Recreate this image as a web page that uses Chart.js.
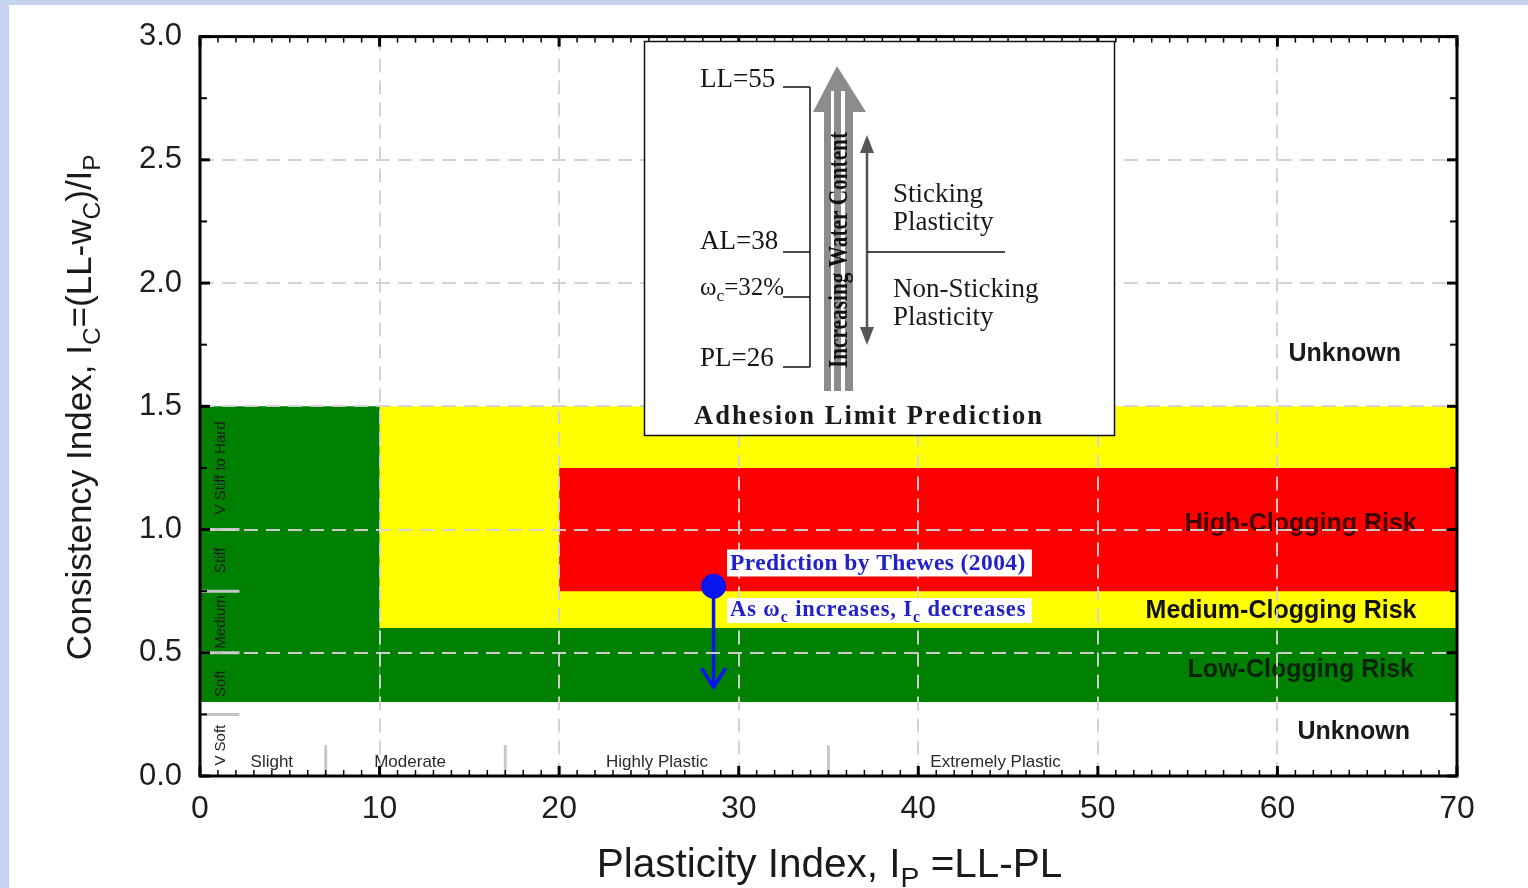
<!DOCTYPE html>
<html>
<head>
<meta charset="utf-8">
<title>Clogging risk chart</title>
<script src="https://cdn.jsdelivr.net/npm/chart.js@4.4.1/dist/chart.umd.min.js"></script>
<style>
  html, body { margin: 0; padding: 0; background: #fff; }
  #box { position: relative; width: 1528px; height: 888px; }
  canvas { display: block; }
</style>
</head>
<body>
<div id="box"><canvas id="myChart" width="1528" height="888"></canvas></div>
<script>
// ---- dados do gráfico ----
const xTickValues = [0, 10, 20, 30, 40, 50, 60, 70];
const yTickValues = [0, 0.5, 1.0, 1.5, 2.0, 2.5, 3.0];

// zonas de risco (Ip de/até, Ic de/até)
const zoneNames  = ['Medium', 'High', 'Low', 'Low'];
const zoneIpFrom = [10, 20, 0, 10];
const zoneIpTo   = [70, 70, 10, 70];
const zoneIcFrom = [0.6, 0.75, 0.3, 0.3];
const zoneIcTo   = [1.5, 1.25, 1.5, 0.6];

// rótulos das zonas (lado direito)
const riskLabels  = ['Unknown', 'High-Clogging Risk', 'Medium-Clogging Risk', 'Low-Clogging Risk', 'Unknown'];
const riskLabelIp = [63.75, 61.3, 60.2, 61.3, 64.25];
const riskLabelIc = [1.71, 1.02, 0.67, 0.43, 0.18];

// classes de consistência (borda esquerda)
const consistencyClasses = ['V Soft', 'Soft', 'Medium', 'Stiff', 'V Stiff to Hard'];
const consistencyBounds  = [0, 0.25, 0.5, 0.75, 1.0, 1.5];

// classes de plasticidade (borda inferior)
const plasticityClasses = ['Slight', 'Moderate', 'Highly Plastic', 'Extremely Plastic'];
const plasticityLabelIp = [4.0, 11.7, 25.45, 44.3];
const plasticityBounds  = [7, 17, 35];

// previsão de Thewes (2004)
const predictionIp = [28.6];
const predictionIc = [0.77];
const arrowIc = [0.77, 0.36];

// ---- estilos ----
const sans = '"Liberation Sans", Arial, sans-serif';
const serif = '"Liberation Serif", "Times New Roman", serif';
const zoneColor = { Low: '#008000', Medium: '#ffff00', High: '#ff0000' };
const blue = '#0a14ee';
const noteBlue = '#2222c8';

function drawRich(ctx, parts, x, y, size, family, weight, align) {
  const items = parts.map(p => {
    const font = weight + ' ' + (p.sub ? size * 0.7 : size) + 'px ' + family;
    ctx.font = font;
    return { t: p.t, sub: p.sub, font: font, w: ctx.measureText(p.t).width };
  });
  const total = items.reduce((s, it) => s + it.w, 0);
  let cx = align === 'center' ? x - total / 2 : x;
  ctx.textAlign = 'left';
  ctx.textBaseline = 'alphabetic';
  for (const it of items) {
    ctx.font = it.font;
    ctx.fillText(it.t, cx, it.sub ? y + size * 0.25 : y);
    cx += it.w;
  }
}

function seg(ctx, x1, y1, x2, y2) {
  ctx.beginPath();
  ctx.moveTo(x1, y1);
  ctx.lineTo(x2, y2);
  ctx.stroke();
}

// rótulos que ficam por baixo da grade
function drawUnderGrid(chart) {
  const { ctx, scales: { x, y } } = chart;
  ctx.save();

  // divisórias de consistência
  ctx.strokeStyle = '#c4c4c4';
  ctx.lineWidth = 3;
  for (let i = 1; i < consistencyBounds.length - 1; i++) {
    const py = y.getPixelForValue(consistencyBounds[i]);
    seg(ctx, x.getPixelForValue(0), py, x.getPixelForValue(2.2), py);
  }
  ctx.fillStyle = '#1c1c1c';
  ctx.font = '15px ' + sans;
  ctx.textAlign = 'center';
  ctx.textBaseline = 'middle';
  consistencyClasses.forEach((name, i) => {
    const py = y.getPixelForValue((consistencyBounds[i] + consistencyBounds[i + 1]) / 2);
    ctx.save();
    ctx.translate(x.getPixelForValue(1.15), py);
    ctx.rotate(-Math.PI / 2);
    ctx.fillText(name, 0, 0);
    ctx.restore();
  });

  // divisórias de plasticidade
  ctx.strokeStyle = '#c8c8c8';
  ctx.lineWidth = 3;
  plasticityBounds.forEach(v => {
    const px = x.getPixelForValue(v);
    seg(ctx, px, y.getPixelForValue(0), px, y.getPixelForValue(0.125));
  });
  ctx.fillStyle = '#2a2a2a';
  ctx.font = '17px ' + sans;
  ctx.textBaseline = 'alphabetic';
  plasticityClasses.forEach((name, i) => {
    ctx.fillText(name, x.getPixelForValue(plasticityLabelIp[i]), y.getPixelForValue(0.036));
  });

  // rótulos das zonas
  const riskColors = ['#1a1a1a', '#3c0000', '#111111', '#0a220a', '#1a1a1a'];
  ctx.font = 'bold 25px ' + sans;
  ctx.textBaseline = 'middle';
  riskLabels.forEach((name, i) => {
    ctx.fillStyle = riskColors[i];
    ctx.fillText(name, x.getPixelForValue(riskLabelIp[i]), y.getPixelForValue(riskLabelIc[i]));
  });

  // ponta da seta azul
  const meta = chart.getDatasetMeta(zoneNames.length);
  const tip = meta.data[meta.data.length - 1];
  ctx.strokeStyle = blue;
  ctx.lineWidth = 3.5;
  ctx.lineJoin = 'miter';
  ctx.beginPath();
  ctx.moveTo(tip.x - 12, tip.y - 19);
  ctx.lineTo(tip.x, tip.y);
  ctx.lineTo(tip.x + 12, tip.y - 19);
  ctx.stroke();
  ctx.restore();
}

function drawFrame(chart) {
  const { ctx, chartArea: a, scales: { x, y } } = chart;
  ctx.save();
  ctx.strokeStyle = '#000';
  for (let v = x.min; v <= x.max; v += 1) {
    const p = x.getPixelForValue(v);
    const major = v % 10 === 0;
    const len = major ? 10 : 6;
    ctx.lineWidth = major ? 3 : 1.5;
    seg(ctx, p, a.bottom, p, a.bottom - len);
    seg(ctx, p, a.top, p, a.top + len);
  }
  for (let k = 0; k <= 12; k++) {
    const p = y.getPixelForValue(k * 0.25);
    const major = k % 2 === 0;
    const len = major ? 10 : 7;
    ctx.lineWidth = major ? 3 : 2;
    seg(ctx, a.left, p, a.left + len, p);
    seg(ctx, a.right, p, a.right - len, p);
  }
  ctx.lineWidth = 3;
  ctx.strokeRect(a.left, a.top, a.right - a.left, a.bottom - a.top);
  ctx.restore();
}

function drawNotes(chart) {
  const { ctx, scales: { x, y } } = chart;
  const left = x.getPixelForValue(29.35);
  const right = x.getPixelForValue(46.33);
  ctx.save();
  ctx.fillStyle = '#fff';
  const t1 = y.getPixelForValue(0.919);
  const t2 = y.getPixelForValue(0.722);
  ctx.fillRect(left, t1, right - left, 27);
  ctx.fillRect(left, t2, right - left, 25);
  ctx.fillStyle = noteBlue;
  ctx.letterSpacing = '0.4px';
  drawRich(ctx, [{ t: 'Prediction by Thewes (2004)' }], left + 3, t1 + 21, 23.5, serif, 'bold', 'left');
  ctx.letterSpacing = '0.9px';
  drawRich(ctx, [{ t: 'As \u03c9' }, { t: 'c', sub: true }, { t: ' increases, I' }, { t: 'c', sub: true }, { t: ' decreases' }],
    left + 3, t2 + 18, 22.5, serif, 'bold', 'left');
  ctx.restore();
}

function drawInset(chart) {
  const { ctx, scales: { x, y } } = chart;
  const bx = Math.round(x.getPixelForValue(24.7));
  const by = Math.round(y.getPixelForValue(2.984));
  const bw = Math.round(x.getPixelForValue(50.9)) - bx;
  const bh = Math.round(y.getPixelForValue(1.383)) - by;
  ctx.save();
  ctx.translate(bx, by);
  ctx.fillStyle = '#fff';
  ctx.fillRect(0, 0, bw, bh);
  ctx.strokeStyle = '#111';
  ctx.lineWidth = 1.5;
  ctx.strokeRect(0.5, 0.5, bw, bh);

  // limites de Atterberg
  ctx.fillStyle = '#151515';
  drawRich(ctx, [{ t: 'LL=55' }], 56, 46, 27, serif, 'normal', 'left');
  drawRich(ctx, [{ t: 'AL=38' }], 56, 208, 27, serif, 'normal', 'left');
  drawRich(ctx, [{ t: '\u03c9' }, { t: 'c', sub: true }, { t: '=32%' }], 56, 254, 25, serif, 'normal', 'left');
  drawRich(ctx, [{ t: 'PL=26' }], 56, 325, 27, serif, 'normal', 'left');
  ctx.strokeStyle = '#111';
  ctx.lineWidth = 1.5;
  [46, 211, 256, 326].forEach(v => seg(ctx, 139, v, 166, v));
  seg(ctx, 166, 46, 166, 326);

  // seta grande cinza
  ctx.fillStyle = '#8c8c8c';
  ctx.fillRect(180, 68, 29, 282);
  ctx.beginPath();
  ctx.moveTo(193, 25);
  ctx.lineTo(222, 71);
  ctx.lineTo(169, 71);
  ctx.closePath();
  ctx.fill();
  ctx.fillStyle = '#fff';
  ctx.fillRect(187, 50, 3, 300);
  ctx.fillRect(197, 50, 4, 300);
  ctx.save();
  ctx.translate(203, 245 - 36);
  ctx.rotate(-Math.PI / 2);
  ctx.fillStyle = '#111';
  ctx.font = 'bold 28px ' + serif;
  ctx.textAlign = 'center';
  ctx.textBaseline = 'alphabetic';
  ctx.fillText('Increasing Water Content', 0, 0, 236);
  ctx.restore();

  // seta dupla
  ctx.strokeStyle = '#555';
  ctx.fillStyle = '#555';
  ctx.lineWidth = 2.5;
  seg(ctx, 223, 108, 223, 290);
  ctx.beginPath();
  ctx.moveTo(223, 94); ctx.lineTo(230, 112); ctx.lineTo(216, 112); ctx.closePath(); ctx.fill();
  ctx.beginPath();
  ctx.moveTo(223, 304); ctx.lineTo(230, 286); ctx.lineTo(216, 286); ctx.closePath(); ctx.fill();
  ctx.strokeStyle = '#111';
  ctx.lineWidth = 1.5;
  seg(ctx, 223, 211, 361, 211);

  ctx.fillStyle = '#1a1a1a';
  drawRich(ctx, [{ t: 'Sticking' }], 249, 161, 27, serif, 'normal', 'left');
  drawRich(ctx, [{ t: 'Plasticity' }], 249, 189, 27, serif, 'normal', 'left');
  drawRich(ctx, [{ t: 'Non-Sticking' }], 249, 256, 27, serif, 'normal', 'left');
  drawRich(ctx, [{ t: 'Plasticity' }], 249, 284, 27, serif, 'normal', 'left');

  ctx.letterSpacing = '2px';
  drawRich(ctx, [{ t: 'Adhesion Limit Prediction' }], 225, 383, 26.5, serif, 'bold', 'center');
  ctx.restore();
}

function drawTitles(chart) {
  const { ctx, chartArea: a } = chart;
  ctx.save();
  ctx.fillStyle = '#1a1a1a';
  drawRich(ctx, [{ t: 'Plasticity Index, I' }, { t: 'P', sub: true }, { t: ' =LL-PL' }],
    (a.left + a.right) / 2 + 1, 877, 40.5, sans, 'normal', 'center');
  ctx.translate(91, (a.top + a.bottom) / 2 + 1);
  ctx.rotate(-Math.PI / 2);
  drawRich(ctx, [{ t: 'Consistency Index, I' }, { t: 'C', sub: true }, { t: '=(LL-w' }, { t: 'C', sub: true }, { t: ')/I' }, { t: 'P', sub: true }],
    0, 0, 35, sans, 'normal', 'center');
  ctx.restore();
}

const overlay = {
  id: 'overlay',
  beforeDraw(chart) {
    const { ctx, width, height } = chart;
    ctx.save();
    ctx.fillStyle = '#fff';
    ctx.fillRect(0, 0, width, height);
    ctx.fillStyle = '#c6d3f0';
    ctx.fillRect(0, 0, width, 5);
    ctx.fillRect(0, 0, 9, height);
    ctx.restore();
  },
  afterDatasetsDraw(chart) {
    drawUnderGrid(chart);
  },
  afterDraw(chart) {
    drawFrame(chart);
    drawNotes(chart);
    drawInset(chart);
    drawTitles(chart);
  }
};

const zoneDatasets = zoneNames.map((name, i) => ({
  type: 'line',
  label: name + '-Clogging Risk',
  data: [
    { x: zoneIpFrom[i], y: zoneIcFrom[i] },
    { x: zoneIpTo[i], y: zoneIcFrom[i] },
    { x: zoneIpTo[i], y: zoneIcTo[i] },
    { x: zoneIpFrom[i], y: zoneIcTo[i] },
    { x: zoneIpFrom[i], y: zoneIcFrom[i] }
  ],
  backgroundColor: zoneColor[name],
  borderColor: 'rgba(0,0,0,0)',
  borderWidth: 0,
  pointRadius: 0,
  tension: 0,
  fill: 'shape',
  order: 10 - i
}));

const ctx1 = document.getElementById('myChart').getContext('2d');
const myChart = new Chart(ctx1, {
  type: 'line',
  data: {
    datasets: zoneDatasets.concat([
      {
        type: 'line',
        label: 'Ic trend',
        data: arrowIc.map(v => ({ x: predictionIp[0], y: v })),
        borderColor: blue,
        borderWidth: 3.5,
        pointRadius: 0,
        fill: false,
        order: 1
      },
      {
        type: 'scatter',
        label: 'Prediction by Thewes (2004)',
        data: predictionIp.map((v, i) => ({ x: v, y: predictionIc[i] })),
        backgroundColor: blue,
        borderWidth: 0,
        pointRadius: 12.5,
        order: 0
      }
    ])
  },
  options: {
    responsive: false,
    animation: false,
    layout: { padding: { top: 32, right: 71, left: 0, bottom: 0 } },
    plugins: {
      legend: { display: false },
      tooltip: { enabled: false }
    },
    scales: {
      x: {
        type: 'linear',
        min: 0,
        max: 70,
        afterBuildTicks: s => { s.ticks = xTickValues.map(v => ({ value: v })); },
        afterFit: s => { s.height = 112; },
        ticks: {
          color: '#1e1e1e',
          padding: 14,
          maxRotation: 0,
          font: { family: sans, size: 32 }
        },
        grid: { color: 'rgba(210,210,210,0.95)', lineWidth: 2, drawTicks: false, z: 1 },
        border: { display: false, dash: [14, 8] }
      },
      y: {
        type: 'linear',
        min: 0,
        max: 3,
        afterBuildTicks: s => { s.ticks = yTickValues.map(v => ({ value: v })); },
        afterFit: s => { s.width = 200; },
        ticks: {
          color: '#1e1e1e',
          padding: 18,
          font: { family: sans, size: 31 },
          callback: v => Number(v).toFixed(1)
        },
        grid: { color: 'rgba(210,210,210,0.95)', lineWidth: 2, drawTicks: false, z: 1 },
        border: { display: false, dash: [14, 8] }
      }
    }
  },
  plugins: [overlay]
});
</script>
</body>
</html>
